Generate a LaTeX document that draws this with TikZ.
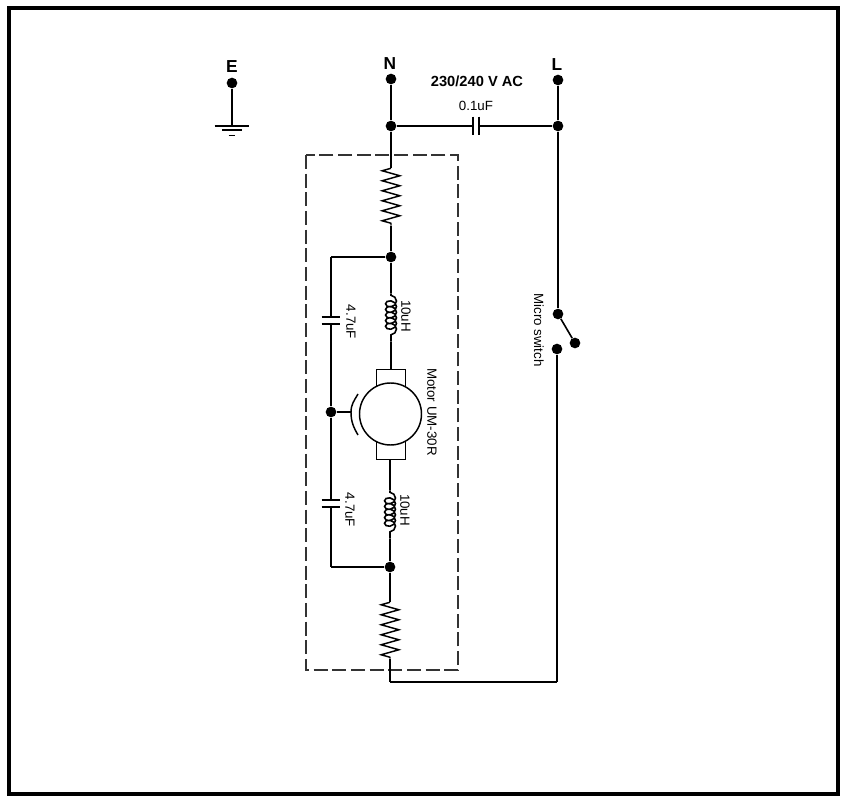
\documentclass[tikz,border=0pt]{standalone}
\usepackage{fontspec}
\setmainfont{Liberation Sans}
\usetikzlibrary{decorations.pathmorphing}
\tikzset{
  dot/.style={circle,fill=black,inner sep=0pt,minimum size=8pt},
  pin/.style={inner sep=0pt,minimum size=0pt},
  term/.style={inner sep=0pt,font=\bfseries\fontsize{13}{13}\selectfont},
  val/.style={inner sep=0pt,font=\fontsize{10}{10}\selectfont},
  sideval/.style={val,rotate=-90},
  plate/.style={line width=1.1pt},
  wire/.style={line width=1.2pt},
  resistor/.style={line width=1.1pt,decorate,decoration={zigzag,mirror,segment length=7.5pt,amplitude=6.6pt}},
  inductor/.style={line width=1.2pt,decorate,decoration={coil,aspect=0.8,segment length=4.2pt,amplitude=4.1pt,pre length=1.5pt,post length=1.5pt}},
  brush/.style={draw,line width=1.1pt,fill=white,inner sep=0pt,minimum width=22pt}
}
\begin{document}
\begin{tikzpicture}[x=0.75pt,y=-0.75pt]
      \useasboundingbox (0,0) rectangle (851,802);
      \draw[line width=3pt] (9,8) rectangle (837.5,794);
      \draw[dashed,dash pattern=on 10.5pt off 3.5pt,line width=1pt,black!80] (306,155) rectangle (458,670);
      \draw
        (232,83) node[dot] (E){}
        (232,126) node[pin] (gnd){}
        (391,79) node[dot] (N){}
        (558,80) node[dot] (L){}
        (391,126) node[dot] (j1){}
        (558,126) node[dot] (j2){}
        (473,126) node[pin] (c1a){}
        (479,126) node[pin] (c1b){}
        (391,168) node[pin] (r1a){}
        (391,226) node[pin] (r1b){}
        (391,257) node[dot] (j3){}
        (331,257) node[pin] (c3){}
        (391,293) node[pin] (l1a){}
        (391,342) node[pin] (l1b){}
        (331,317) node[pin] (c2a){}
        (331,324) node[pin] (c2b){}
        (331,412) node[dot] (j4){}
        (351,412) node[pin] (wipe){}
        (331,500) node[pin] (c4a){}
        (331,507) node[pin] (c4b){}
        (390,490) node[pin] (l2a){}
        (390,539) node[pin] (l2b){}
        (390,567) node[dot] (j5){}
        (331,567) node[pin] (c5){}
        (390,602) node[pin] (r2a){}
        (390,659) node[pin] (r2b){}
        (390,682) node[pin] (c6){}
        (557,682) node[pin] (c7){}
        (557,349) node[dot] (s2){}
        (558,314) node[dot] (s1){}
        (575,343) node[dot] (s3){};
      \node[brush,minimum height=16pt] (brush1) at (391,380) {};
      \node[brush,minimum height=16pt] (brush2) at (391,449) {};
      \node[draw,circle,line width=1.1pt,fill=white,inner sep=0pt,minimum size=46.5pt] (motor) at (390.5,414) {};
      \node[term] (Elabel) at (232,67) {E};
      \node[term] (Nlabel) at (390,64) {N};
      \node[term] (Llabel) at (557,65) {L};
      \node[inner sep=0pt,font=\bfseries\fontsize{11}{11}\selectfont] (supply) at (477,81) {230/240 V AC};
      \node[val] (c1label) at (476,106) {0.1uF};
      \node[sideval] (l1label) at (406,316) {10uH};
      \node[sideval] (l2label) at (405,510) {10uH};
      \node[sideval] (c2label) at (351,322) {4.7uF};
      \node[sideval] (c4label) at (350,510) {4.7uF};
      \node[sideval] (motorlabel) at (432,412) {Motor UM-30R};
      \node[sideval] (switchlabel) at (539,330) {Micro switch};
      \begin{scope}[wire]
        \draw (E) to (gnd);
        \draw (N) to (j1);
        \draw (L) to (j2);
        \draw (j1) to (c1a);
        \draw (c1b) to (j2);
        \draw (j1) to (r1a);
        \draw (r1b) to (j3);
        \draw (j3) to (c3);
        \draw (c3) to (c2a);
        \draw (c2b) to (j4);
        \draw (j4) to (c4a);
        \draw (c4b) to (c5);
        \draw (c5) to (j5);
        \draw (j3) to (l1a);
        \draw (l1b) to (brush1.north);
        \draw (brush2.south -| l2a) to (l2a);
        \draw (l2b) to (j5);
        \draw (j4) to (wipe);
        \draw (j5) to (r2a);
        \draw (r2b) to (c6);
        \draw (c6) to (c7);
        \draw (c7) to (s2);
        \draw (j2) to (s1);
        \draw (s1) to (s3);
      \end{scope}
      \draw[resistor] (r1a) to (r1b);
      \draw[resistor] (r2a) to (r2b);
      \draw[inductor] (l1a) to (l1b);
      \draw[inductor] (l2a) to (l2b);
      \begin{scope}[plate]
        \draw ([yshift=7pt]c1a.center) to ([yshift=-7pt]c1a.center);
        \draw ([yshift=7pt]c1b.center) to ([yshift=-7pt]c1b.center);
        \draw ([xshift=-7pt]c2a.center) to ([xshift=7pt]c2a.center);
        \draw ([xshift=-7pt]c2b.center) to ([xshift=7pt]c2b.center);
        \draw ([xshift=-7pt]c4a.center) to ([xshift=7pt]c4a.center);
        \draw ([xshift=-7pt]c4b.center) to ([xshift=7pt]c4b.center);
        \draw ([xshift=-13pt]gnd.center) to ([xshift=13pt]gnd.center);
        \draw ([xshift=-7.5pt,yshift=-3pt]gnd.center) to ([xshift=7.5pt,yshift=-3pt]gnd.center);
        \draw ([xshift=-2.5pt,yshift=-7pt]gnd.center) to ([xshift=2.5pt,yshift=-7pt]gnd.center);
        \draw (358,394) to[out=240,in=90] (wipe.center) to[out=270,in=120] (358,435);
      \end{scope}
    \end{tikzpicture}
\end{document}
